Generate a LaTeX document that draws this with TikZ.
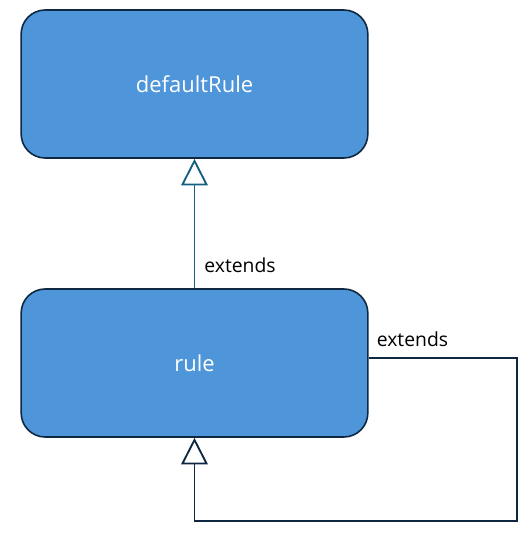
\documentclass[tikz,border=0pt]{standalone}
\usepackage{fontspec}
\setmainfont{Open Sans}
\usepackage{tikz}
\usetikzlibrary{arrows.meta}
\definecolor{boxfill}{HTML}{4E95D9}
\definecolor{boxline}{HTML}{0E2841}
\definecolor{linkteal}{HTML}{156082}

\begin{document}
\begin{tikzpicture}[x=0.75pt, y=-0.75pt,
  classbox/.style={draw=boxline, fill=boxfill, line width=1.2pt, rounded corners=18pt,
    minimum width=260pt, minimum height=111pt, text=white, font=\fontsize{16.5}{19}\selectfont},
  extarrow/.style={line width=1.4pt, -{Triangle[open, width=20pt, length=20pt]}},
  extlabel/.style={font=\fontsize{14.5}{17}\selectfont, text=black, inner sep=0pt}]
\useasboundingbox (0,0) rectangle (532,536);
\node[classbox] (default) at (194.5,84) {defaultRule};
\node[classbox] (rule) at (194.5,363) {rule};
%
\draw[extarrow, linkteal] (rule.north) -- (default.south)
  node[extlabel, pos=0.18, anchor=west, xshift=6.75pt] {extends};
%
\coordinate (loop) at (517,521);
\draw[extarrow, boxline] ([yshift=3.75pt]rule.east) -| (loop) -| (rule.south);
\node[extlabel, anchor=base west] at ([xshift=6pt, yshift=12.5pt]rule.east) {extends};
\end{tikzpicture}
\end{document}
